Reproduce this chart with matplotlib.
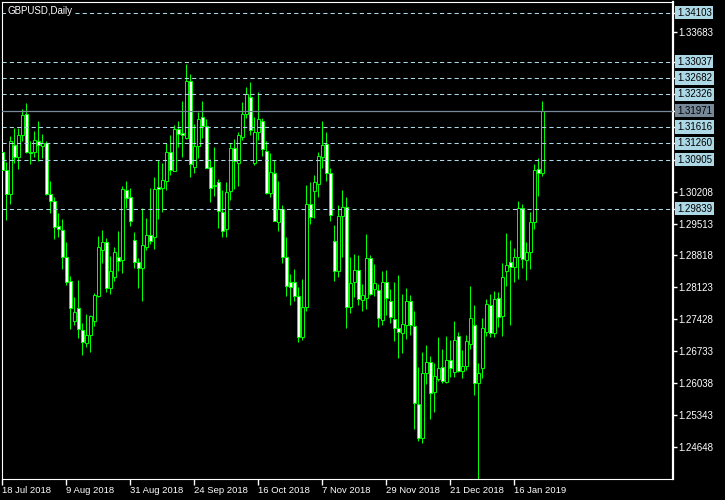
import pandas as pd
from matplotlib import pyplot as plt

plt.rcParams['font.family'] = ['Liberation Sans', 'DejaVu Sans']

chart_title = "GBPUSD,Daily"

# daily OHLC, 18 Jul 2018 .. 25 Jan 2019
opens = [1.3107, 1.3068, 1.3015, 1.3122, 1.3097, 1.3143, 1.3190, 1.3108, 1.3108, 1.3130,
         1.3120, 1.3127, 1.3015, 1.3000, 1.2946, 1.2937, 1.2878, 1.2826, 1.2739, 1.2767,
         1.2720, 1.2691, 1.2709, 1.2740, 1.2794, 1.2894, 1.2911, 1.2810, 1.2836, 1.2878,
         1.2871, 1.3024, 1.3010, 1.2916, 1.2867, 1.2854, 1.2901, 1.2926, 1.2921, 1.3030,
         1.3029, 1.3045, 1.3106, 1.3066, 1.3157, 1.3148, 1.3137, 1.3262, 1.3075, 1.3121,
         1.3183, 1.3164, 1.3074, 1.3032, 1.3041, 1.2976, 1.2940, 1.3022, 1.3115, 1.3083,
         1.3140, 1.3190, 1.3226, 1.3084, 1.3151, 1.3175, 1.3110, 1.3017, 1.3062, 1.2955,
         1.2983, 1.2878, 1.2823, 1.2825, 1.2794, 1.2705, 1.2769, 1.2993, 1.3023, 1.3037,
         1.3097, 1.3124, 1.3061, 1.2914, 1.2847, 1.2968, 1.2987, 1.2769, 1.2824, 1.2850,
         1.2784, 1.2790, 1.2876, 1.2808, 1.2807, 1.2741, 1.2823, 1.2783, 1.2743, 1.2723,
         1.2714, 1.2730, 1.2783, 1.2728, 1.2558, 1.2484, 1.2625, 1.2649, 1.2585, 1.2612,
         1.2638, 1.2607, 1.2654, 1.2628, 1.2707, 1.2631, 1.2641, 1.2689, 1.2730, 1.2605,
         1.2636, 1.2716, 1.2773, 1.2712, 1.2789, 1.2749, 1.2849, 1.2867, 1.2857, 1.2878,
         1.2985, 1.2871, 1.2890, 1.2955, 1.3069, 1.3062]
highs = [1.3116, 1.3086, 1.3142, 1.3159, 1.3159, 1.3201, 1.3213, 1.3131, 1.3153, 1.3175,
         1.3146, 1.3130, 1.3044, 1.3009, 1.2974, 1.2961, 1.2911, 1.2837, 1.2791, 1.2828,
         1.2734, 1.2754, 1.2752, 1.2801, 1.2925, 1.2937, 1.2919, 1.2881, 1.2901, 1.2934,
         1.3033, 1.3044, 1.3028, 1.2932, 1.2876, 1.2985, 1.2964, 1.3028, 1.3053, 1.3090,
         1.3084, 1.3126, 1.3144, 1.3166, 1.3175, 1.3217, 1.3299, 1.3277, 1.3168, 1.3195,
         1.3218, 1.3179, 1.3092, 1.3117, 1.3048, 1.3024, 1.3041, 1.3126, 1.3135, 1.3150,
         1.3215, 1.3248, 1.3260, 1.3183, 1.3237, 1.3181, 1.3132, 1.3104, 1.3090, 1.3044,
         1.2992, 1.2921, 1.2842, 1.2852, 1.2814, 1.2831, 1.3035, 1.3041, 1.3057, 1.3108,
         1.3175, 1.3151, 1.3072, 1.2948, 1.2992, 1.3025, 1.3010, 1.2879, 1.2885, 1.2883,
         1.2820, 1.2929, 1.2883, 1.2863, 1.2820, 1.2849, 1.2850, 1.2809, 1.2825, 1.2839,
         1.2798, 1.2812, 1.2795, 1.2762, 1.2640, 1.2671, 1.2687, 1.2663, 1.2647, 1.2705,
         1.2678, 1.2707, 1.2698, 1.2740, 1.2716, 1.2675, 1.2709, 1.2815, 1.2774, 1.2647,
         1.2745, 1.2786, 1.2798, 1.2805, 1.2803, 1.2866, 1.2930, 1.2916, 1.2897, 1.3000,
         1.2994, 1.2911, 1.2976, 1.3081, 1.3093, 1.3218]
lows = [1.3066, 1.2958, 1.2994, 1.3083, 1.3070, 1.3130, 1.3104, 1.3081, 1.3097, 1.3088,
        1.3093, 1.3014, 1.2975, 1.2918, 1.2923, 1.2852, 1.2818, 1.2722, 1.2731, 1.2702,
        1.2665, 1.2683, 1.2672, 1.2728, 1.2792, 1.2866, 1.2803, 1.2798, 1.2826, 1.2847,
        1.2844, 1.2985, 1.2945, 1.2854, 1.2810, 1.2783, 1.2894, 1.2906, 1.2896, 1.2961,
        1.2977, 1.3024, 1.3056, 1.3066, 1.3119, 1.3097, 1.3135, 1.3053, 1.3061, 1.3093,
        1.3137, 1.3072, 1.2999, 1.3012, 1.2941, 1.2923, 1.2921, 1.3003, 1.3027, 1.3032,
        1.3133, 1.3182, 1.3144, 1.3079, 1.3133, 1.3099, 1.3015, 1.3010, 1.2957, 1.2936,
        1.2866, 1.2794, 1.2774, 1.2783, 1.2693, 1.2698, 1.2762, 1.2950, 1.2964, 1.3010,
        1.3073, 1.3044, 1.2957, 1.2827, 1.2834, 1.2879, 1.2723, 1.2757, 1.2792, 1.2774,
        1.2762, 1.2765, 1.2796, 1.2794, 1.2726, 1.2730, 1.2752, 1.2734, 1.2696, 1.2658,
        1.2670, 1.2699, 1.2709, 1.2503, 1.2479, 1.2474, 1.2602, 1.2526, 1.2542, 1.2609,
        1.2605, 1.2605, 1.2617, 1.2617, 1.2629, 1.2614, 1.2632, 1.2678, 1.2578, 1.2390,
        1.2614, 1.2707, 1.2705, 1.2705, 1.2727, 1.2707, 1.2815, 1.2730, 1.2823, 1.2831,
        1.2855, 1.2828, 1.2852, 1.2940, 1.3011, 1.3055]
closes = [1.3068, 1.3015, 1.3130, 1.3097, 1.3144, 1.3188, 1.3106, 1.3104, 1.3133, 1.3122,
          1.3127, 1.3015, 1.3001, 1.2943, 1.2939, 1.2879, 1.2823, 1.2768, 1.2759, 1.2721,
          1.2694, 1.2709, 1.2750, 1.2796, 1.2900, 1.2911, 1.2812, 1.2848, 1.2890, 1.2870,
          1.3027, 1.3006, 1.2957, 1.2867, 1.2854, 1.2905, 1.2926, 1.2914, 1.3027, 1.3026,
          1.3046, 1.3108, 1.3068, 1.3157, 1.3146, 1.3143, 1.3262, 1.3080, 1.3121, 1.3179,
          1.3164, 1.3073, 1.3029, 1.3036, 1.2979, 1.2936, 1.3021, 1.3115, 1.3088, 1.3144,
          1.3189, 1.3233, 1.3154, 1.3151, 1.3178, 1.3113, 1.3017, 1.3064, 1.2957, 1.2982,
          1.2879, 1.2816, 1.2814, 1.2794, 1.2705, 1.2769, 1.2993, 1.2965, 1.3041, 1.3098,
          1.3122, 1.3061, 1.2970, 1.2847, 1.2968, 1.2987, 1.2769, 1.2821, 1.2850, 1.2786,
          1.2796, 1.2876, 1.2798, 1.2821, 1.2745, 1.2823, 1.2789, 1.2747, 1.2723, 1.2716,
          1.2733, 1.2783, 1.2730, 1.2560, 1.2485, 1.2627, 1.2649, 1.2582, 1.2619, 1.2636,
          1.2609, 1.2654, 1.2636, 1.2698, 1.2631, 1.2641, 1.2696, 1.2745, 1.2605, 1.2627,
          1.2723, 1.2776, 1.2714, 1.2786, 1.2747, 1.2834, 1.2860, 1.2857, 1.2878, 1.2985,
          1.2874, 1.2890, 1.2955, 1.3068, 1.3062, 1.3197]

holidays = ["2018-12-25", "2019-01-01"]
line_levels = [1.34103, 1.33037, 1.32682, 1.32326, 1.31616, 1.31260, 1.30905, 1.29839]
current_price = 1.31971
price_ticks = [1.33683, 1.30208, 1.29513, 1.28818, 1.28123, 1.27428, 1.26733, 1.26038,
               1.25343, 1.24648]

CANDLE_GREEN = "#00ff00"
LINE_BLUE = "#add8e6"
PRICE_GREY = "#778899"


def trading_days():
    days = pd.bdate_range("2018-07-18", "2019-01-25")
    return days[~days.isin(pd.to_datetime(holidays))]


def plot_candles(ax, o, h, l, c):
    x = list(range(len(o)))
    ax.vlines(x, l, h, colors=CANDLE_GREEN, linewidth=0.75, zorder=2)
    bottoms = [min(a, b) for a, b in zip(o, c)]
    heights = [max(abs(b - a), 0.00006) for a, b in zip(o, c)]
    faces = ["white" if b < a else "black" for a, b in zip(o, c)]
    ax.bar(x, heights, bottom=bottoms, width=0.8, color=faces, edgecolor=CANDLE_GREEN,
           linewidth=0.7, zorder=3)


def plot_chart():
    fig = plt.figure(figsize=(7.25, 5.0), dpi=100, facecolor="black")
    ax = fig.add_axes([2 / 725, 21 / 500, 670.5 / 725, 477 / 500], facecolor="black")

    plot_candles(ax, opens, highs, lows, closes)

    for level in line_levels:
        ax.axhline(level, color=LINE_BLUE, linewidth=0.75, dashes=(4, 3), zorder=4)
        ax.text(1.0065, level, f"{level:.5f}", transform=ax.get_yaxis_transform(),
                ha="left", va="center", fontsize=7, color="black", clip_on=False,
                bbox=dict(boxstyle="square,pad=0.18", fc=LINE_BLUE, ec="none"))
    ax.axhline(current_price, color=PRICE_GREY, linewidth=0.9, zorder=4)
    ax.text(1.0065, current_price, f"{current_price:.5f}", transform=ax.get_yaxis_transform(),
            ha="left", va="center", fontsize=7, color="black", clip_on=False,
            bbox=dict(boxstyle="square,pad=0.18", fc=PRICE_GREY, ec="none"))

    ax.set_xlim(-0.075, 167.55)
    ax.set_ylim(1.23952, 1.34336)

    days = trading_days()
    tick_idx = list(range(0, len(days), 16))
    ax.set_xticks(tick_idx)
    ax.set_xticklabels([f"{days[i].day} {days[i].strftime('%b %Y')}" for i in tick_idx])
    for lbl in ax.get_xticklabels():
        lbl.set_horizontalalignment("left")
    ax.tick_params(axis="x", colors="white", length=4, width=1, pad=1, labelsize=6.8)

    ax.yaxis.tick_right()
    ax.set_yticks(price_ticks)
    ax.set_yticklabels([f"{v:.5f}" for v in price_ticks])
    ax.set_yticks(line_levels + [current_price], minor=True)
    ax.tick_params(axis="y", which="both", colors="white", length=3, width=1, pad=1.5,
                   labelsize=7)

    for side in ["left", "top", "bottom"]:
        ax.spines[side].set_color("white")
        ax.spines[side].set_linewidth(0.8)
    ax.spines["right"].set_color("white")
    ax.spines["right"].set_linewidth(1.6)

    ax.text(0.0075, 0.981, chart_title, transform=ax.transAxes, ha="left", va="center",
            fontsize=7, color="white", zorder=6,
            bbox=dict(boxstyle="square,pad=0.1", fc="black", ec="none"))

    fig.savefig("out.png", dpi=100, facecolor="black")
    return


if __name__ == "__main__":
    plot_chart()
